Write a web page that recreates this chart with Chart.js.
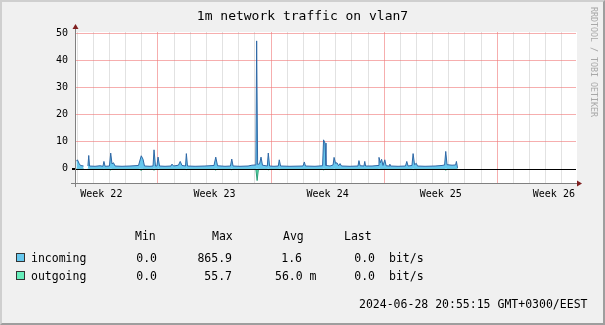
<!DOCTYPE html>
<html><head><meta charset="utf-8">
<script src="https://cdn.jsdelivr.net/npm/chart.js@4/dist/chart.umd.min.js"></script>
<style>
html,body{margin:0;padding:0;background:#f0f0f0;}
#wrap{position:relative;width:605px;height:325px;overflow:hidden;font-family:"DejaVu Sans Mono",monospace;}
#c{position:absolute;left:0;top:0;}
#frame{position:absolute;left:0;top:0;width:605px;height:325px;box-sizing:border-box;border-top:2px solid #cfcfcf;border-left:2px solid #cfcfcf;border-right:2px solid #9e9e9e;border-bottom:2px solid #9e9e9e;pointer-events:none;}
.t{position:absolute;white-space:pre;color:#000;font-size:11.5px;line-height:14px;}
.r{text-align:right;}
#title{position:absolute;left:0;width:605px;top:8px;text-align:center;font-size:13px;line-height:16px;color:#000;white-space:pre;}
#wm{position:absolute;left:589px;top:7px;writing-mode:vertical-rl;font-size:8.3px;line-height:10px;color:#a8a8a8;white-space:pre;}
.sw{position:absolute;width:7px;height:7px;border:1px solid #333;}
</style></head>
<body>
<div id="wrap">
<canvas id="c" width="605" height="325"></canvas>
<div id="title">1m network traffic on vlan7</div>
<div id="wm">RRDTOOL / TOBI OETIKER</div>
<div class="t" style="left:135px;top:229px">Min</div>
<div class="t" style="left:212px;top:229px">Max</div>
<div class="t" style="left:283px;top:229px">Avg</div>
<div class="t" style="left:344px;top:229px">Last</div>

<div class="sw" style="left:16px;top:253px;background:#66c8ee"></div>
<div class="t" style="left:31px;top:251px">incoming</div>
<div class="t r" style="right:448px;top:251px">0.0</div>
<div class="t r" style="right:373px;top:251px">865.9</div>
<div class="t r" style="right:303px;top:251px">1.6</div>
<div class="t r" style="right:230px;top:251px">0.0</div>
<div class="t" style="left:389px;top:251px">bit/s</div>

<div class="sw" style="left:16px;top:271px;background:#66eebb"></div>
<div class="t" style="left:31px;top:269px">outgoing</div>
<div class="t r" style="right:448px;top:269px">0.0</div>
<div class="t r" style="right:373px;top:269px">55.7</div>
<div class="t" style="left:275px;top:269px">56.0 m</div>
<div class="t r" style="right:230px;top:269px">0.0</div>
<div class="t" style="left:389px;top:269px">bit/s</div>

<div class="t" style="left:359px;top:297px">2024-06-28 20:55:15 GMT+0300/EEST</div>
<div id="frame"></div>
</div>
<script>
// ---- data (x = days since start of the 31-day window) ----
const weekLabels = ['Week 22','Week 23','Week 24','Week 25','Week 26'];
const yTickValues = [0,10,20,30,40,50];
const dayLineStart = 0.13;   // first midnight inside the window
const weekLineStart = 5.13;  // first Monday midnight inside the window
const xRange = [0,31];
const yRange = [-5.3,50.7];

const incomingSeries = [[0.09,2.8],[0.15,3.3],[0.25,2.0],[0.34,1.2],[0.53,1.0],[0.56,null],[0.80,1.0],[0.85,4.9],[0.90,1.0],[1.24,0.9],[1.55,1.1],[1.73,0.9],[1.79,2.7],[1.86,0.9],[2.13,1.0],[2.21,5.8],[2.29,1.8],[2.38,2.2],[2.48,1.0],[2.91,0.9],[3.40,1.0],[3.93,1.2],[4.10,4.8],[4.21,3.5],[4.30,1.0],[4.64,0.9],[4.83,1.0],[4.89,7.0],[4.98,1.0],[5.07,1.0],[5.14,4.3],[5.23,1.0],[5.57,0.9],[5.94,1.0],[6.00,1.7],[6.10,1.0],[6.40,1.3],[6.51,2.7],[6.62,1.2],[6.84,1.0],[6.89,5.6],[6.96,1.0],[7.43,0.9],[8.04,1.0],[8.60,1.2],[8.71,4.3],[8.82,1.1],[9.28,0.9],[9.62,1.0],[9.70,3.6],[9.78,1.0],[10.21,0.9],[10.71,1.0],[10.95,1.3],[11.19,1.4],[11.24,47.4],[11.30,1.6],[11.42,1.8],[11.51,4.3],[11.60,1.3],[11.90,1.0],[11.96,5.8],[12.04,1.0],[12.31,0.9],[12.58,1.0],[12.64,3.3],[12.72,1.0],[13.30,0.9],[14.11,1.0],[14.19,2.5],[14.26,1.0],[14.85,0.9],[15.32,1.1],[15.38,10.7],[15.47,9.5],[15.53,1.2],[15.78,1.0],[15.97,1.4],[16.03,4.2],[16.12,2.0],[16.21,2.2],[16.31,1.1],[16.40,1.9],[16.49,1.0],[17.02,0.9],[17.51,1.0],[17.57,3.0],[17.64,1.1],[17.88,1.0],[17.93,2.7],[17.98,1.0],[18.38,1.0],[18.75,1.2],[18.81,4.2],[18.89,2.2],[18.97,3.5],[19.06,1.2],[19.17,3.3],[19.25,1.1],[19.43,1.0],[19.48,1.7],[19.52,1.0],[19.99,0.9],[20.45,1.0],[20.53,2.7],[20.61,1.0],[20.85,1.2],[20.92,5.6],[21.01,1.5],[21.12,2.0],[21.19,1.0],[21.66,0.9],[22.28,1.0],[22.71,1.2],[22.87,1.4],[22.94,6.4],[23.02,1.5],[23.33,1.3],[23.55,1.4],[23.60,2.7],[23.67,0.3]];

const outgoingSeries = [[0.09,-0.1],[0.53,-0.05],[0.56,null],[0.80,-0.05],[0.85,-0.4],[0.90,-0.05],[1.73,-0.05],[1.79,-0.3],[1.86,-0.05],[2.13,-0.05],[2.21,-0.5],[2.29,-0.05],[3.93,-0.05],[4.10,-0.6],[4.21,-0.05],[4.83,-0.05],[4.89,-0.6],[4.98,-0.05],[5.07,-0.05],[5.14,-0.4],[5.23,-0.05],[6.84,-0.05],[6.89,-0.4],[6.96,-0.05],[8.60,-0.05],[8.71,-0.5],[8.82,-0.05],[9.62,-0.05],[9.70,-0.4],[9.78,-0.05],[11.19,-0.1],[11.27,-4.4],[11.35,-0.1],[11.90,-0.05],[11.96,-0.5],[12.04,-0.05],[12.58,-0.05],[12.64,-0.3],[12.72,-0.05],[15.32,-0.05],[15.38,-0.5],[15.47,-0.05],[15.97,-0.05],[16.03,-0.4],[16.12,-0.05],[18.75,-0.05],[18.81,-0.4],[18.89,-0.05],[20.85,-0.05],[20.92,-0.4],[21.01,-0.05],[22.87,-0.05],[22.94,-0.6],[23.02,-0.05],[23.67,-0.05]];

const toPoints = s => s.map(p => ({x:p[0], y:p[1]}));

const rrdPlugin = {
  id:'rrd',
  beforeDraw(chart){
    const {ctx, chartArea:a} = chart;
    ctx.save();
    ctx.fillStyle = '#f0f0f0';
    ctx.fillRect(0,0,chart.width,chart.height);
    ctx.fillStyle = '#ffffff';
    ctx.fillRect(a.left, a.top, a.right-a.left+1, a.bottom-a.top);
    ctx.restore();
  },
  afterDatasetsDraw(chart){
    const {ctx, chartArea:a, scales} = chart;
    const y0 = Math.round(scales.y.getPixelForValue(0)) + 0.5;
    ctx.save();
    ctx.lineWidth = 1;
    // zero rule
    ctx.strokeStyle = '#000';
    ctx.beginPath(); ctx.moveTo(a.left-3, y0); ctx.lineTo(a.right, y0); ctx.stroke();
    // axes
    const L = Math.round(a.left)+0.5, B = Math.round(a.bottom)+0.5;
    ctx.strokeStyle = '#808080';
    ctx.beginPath(); ctx.moveTo(L, a.bottom+4); ctx.lineTo(L, a.top-4); ctx.stroke();
    ctx.beginPath(); ctx.moveTo(a.left-4, B); ctx.lineTo(a.right+2, B); ctx.stroke();
    // arrows
    ctx.fillStyle = '#7f1f1f';
    ctx.beginPath(); ctx.moveTo(L-3, a.top-3); ctx.lineTo(L+3, a.top-3); ctx.lineTo(L, a.top-8); ctx.closePath(); ctx.fill();
    ctx.beginPath(); ctx.moveTo(a.right+1, B-3); ctx.lineTo(a.right+1, B+3); ctx.lineTo(a.right+6, B); ctx.closePath(); ctx.fill();
    ctx.restore();
  }
};

new Chart(document.getElementById('c'), {
  type:'line',
  data:{datasets:[
    {label:'incoming', data:toPoints(incomingSeries), fill:'origin', backgroundColor:'#66c8ee', borderColor:'#2f68a6', borderWidth:1, pointRadius:0, tension:0, spanGaps:false},
    {label:'outgoing', data:toPoints(outgoingSeries), fill:'origin', backgroundColor:'#5fe6b0', borderColor:'#2b9e78', borderWidth:1, pointRadius:0, tension:0, spanGaps:false}
  ]},
  options:{
    responsive:false, animation:false, devicePixelRatio:1,
    layout:{padding:{top:32,right:29,bottom:122,left:0}},
    plugins:{legend:{display:false}, title:{display:false}, tooltip:{enabled:false}},
    scales:{
      x:{type:'linear', min:xRange[0], max:xRange[1], offset:false,
        afterBuildTicks(scale){
          const t=[];
          for(let d=dayLineStart; d<=xRange[1]; d+=1){
            const isWeek = Math.abs(((d-weekLineStart)%7+7)%7) < 1e-6 || Math.abs(((d-weekLineStart)%7+7)%7-7) < 1e-6;
            t.push({value:+d.toFixed(2), kind:isWeek?'week':'day'});
          }
          weekLabels.forEach((w,i)=>{ t.push({value:+(weekLineStart-3.5+7*i).toFixed(2), kind:'label', wk:w}); });
          t.sort((p,q)=>p.value-q.value);
          scale.ticks = t;
        },
        afterFit(scale){ scale.height = 20; },
        ticks:{autoSkip:false, maxRotation:0, minRotation:0, padding:5, color:'#000',
          font:{family:'"DejaVu Sans Mono", monospace', size:10},
          callback(v,i,ticks){ return ticks[i].wk || ''; }},
        grid:{drawTicks:false, lineWidth:1,
          color(ctx){ const k=ctx.tick && ctx.tick.kind; return k==='week' ? 'rgba(240,120,120,0.6)' : k==='day' ? '#e2e2e2' : 'rgba(0,0,0,0)'; }},
        border:{display:false}
      },
      y:{type:'linear', min:yRange[0], max:yRange[1],
        afterBuildTicks(scale){ scale.ticks = yTickValues.map(v=>({value:v})); },
        afterFit(scale){ scale.width = 75; },
        ticks:{padding:4, color:'#000', font:{family:'"DejaVu Sans Mono", monospace', size:10}},
        grid:{drawTicks:true, tickLength:3, lineWidth:1,
          tickColor(ctx){ return ctx.tick && ctx.tick.value===0 ? '#000' : 'rgba(0,0,0,0)'; },
          color(ctx){ return ctx.tick && ctx.tick.value===0 ? 'rgba(0,0,0,0)' : 'rgba(240,120,120,0.6)'; }},
        border:{display:false}
      }
    }
  },
  plugins:[rrdPlugin]
});
</script>
</body></html>
